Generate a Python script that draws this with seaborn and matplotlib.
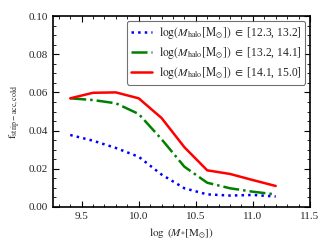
import numpy as np
import pandas as pd
import matplotlib
matplotlib.use("Agg")
import matplotlib.pyplot as plt
import seaborn as sns
from matplotlib.ticker import MultipleLocator

log_mstar = [9.4, 9.6, 9.8, 10.0, 10.2, 10.4, 10.6, 10.8, 11.0, 11.2]
f_low = [0.0377, 0.0347, 0.0309, 0.0263, 0.0170, 0.0098, 0.0066, 0.0060, 0.0063, 0.0055]
f_mid = [0.0569, 0.0560, 0.0543, 0.0487, 0.0355, 0.0211, 0.0127, 0.0098, 0.0080, 0.0066]
f_high = [0.0569, 0.0598, 0.0600, 0.0569, 0.0466, 0.0313, 0.0192, 0.0173, 0.0141, 0.0110]
labels = [r'$\log(M_{\rm halo}[\rm M_{\odot}])\ \in$ [12.3, 13.2]',
          r'$\log(M_{\rm halo}[\rm M_{\odot}])\ \in$ [13.2, 14.1]',
          r'$\log(M_{\rm halo}[\rm M_{\odot}])\ \in$ [14.1, 15.0]']

sns.set_style("ticks")
plt.rcParams['font.family'] = ['Liberation Serif', 'DejaVu Serif']
plt.rcParams['mathtext.fontset'] = 'stix'

fig = plt.figure(figsize=(3.34, 2.5), dpi=100)
ax = fig.add_axes([0.159, 0.172, 0.769, 0.764])

styles = [(':', 'blue'), ('-.', 'green'), ('-', 'red')]
for vals, lab, (ls, c) in zip([f_low, f_mid, f_high], labels, styles):
    df = pd.DataFrame({'x': log_mstar, 'y': vals})
    sns.lineplot(data=df, x='x', y='y', ax=ax, color=c, linestyle=ls, lw=1.8, label=lab)

ax.set_xlim(9.25, 11.5)
ax.set_ylim(0.0, 0.1)
ax.xaxis.set_minor_locator(MultipleLocator(0.1))
ax.yaxis.set_minor_locator(MultipleLocator(0.005))
ax.tick_params(which='both', direction='in', top=True, right=True, labelsize=8, color='black')
ax.tick_params(which='major', length=4, width=0.8)
ax.tick_params(which='minor', length=2, width=0.6)
ax.set_xticks([9.5, 10.0, 10.5, 11.0, 11.5])
ax.set_xticklabels(['9.5', '10.0', '10.5', '11.0', '11.5'])
ax.set_yticks([0.0, 0.02, 0.04, 0.06, 0.08, 0.10])
ax.set_yticklabels(['0.00', '0.02', '0.04', '0.06', '0.08', '0.10'])
for s in ax.spines.values():
    s.set_linewidth(1.2)
    s.set_color('black')

ax.set_xlabel(r'$\log\ (M_{*}[\rm M_{\odot}])$', fontsize=8)
ax.set_ylabel(r'$\rm f_{strip-acc,cold}$', fontsize=8)

leg = ax.legend(loc='upper right', fontsize=8.3, frameon=True, fancybox=True,
                handlelength=1.8, borderpad=0.35, labelspacing=0.35, handletextpad=0.6,
                borderaxespad=0.4)
leg.get_frame().set_edgecolor('0.3')
leg.get_frame().set_linewidth(0.8)

fig.savefig('out.png', dpi=100)
